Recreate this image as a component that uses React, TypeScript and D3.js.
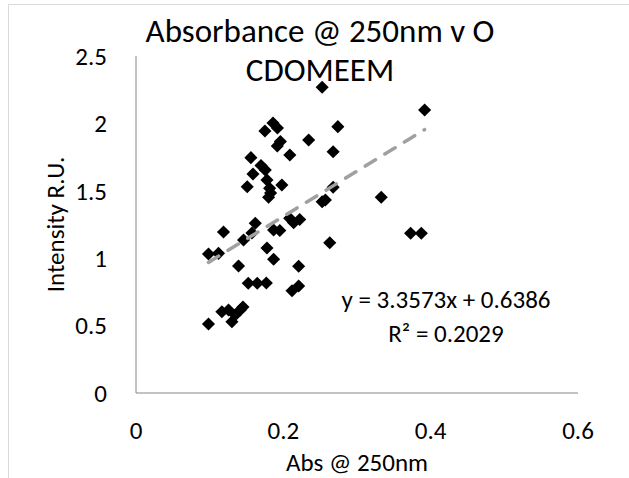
import React from "react";
import * as d3 from "d3";

// ---- data ----
const absorbance: number[] = [
  0.2527, 0.3918, 0.186, 0.192, 0.175, 0.274, 0.2344, 0.196, 0.1918, 0.2676,
  0.2088, 0.156, 0.1697, 0.1588, 0.1755, 0.1778, 0.151, 0.198, 0.1814, 0.1827,
  0.18, 0.2676, 0.2571, 0.2527, 0.3329, 0.1619, 0.1574, 0.1188, 0.146, 0.1868,
  0.1952, 0.2086, 0.214, 0.2222, 0.0984, 0.112, 0.1778, 0.1868, 0.1392, 0.2208,
  0.263, 0.3728, 0.3873, 0.1524, 0.1646, 0.1769, 0.2118, 0.2208, 0.0984, 0.1166,
  0.1256, 0.1302, 0.1347, 0.1415, 0.1452,
];
const intensity: number[] = [
  2.268, 2.099, 2.003, 1.966, 1.944, 1.976, 1.877, 1.866, 1.832, 1.79,
  1.766, 1.746, 1.688, 1.625, 1.654, 1.58, 1.53, 1.543, 1.519, 1.484,
  1.452, 1.526, 1.432, 1.419, 1.452, 1.259, 1.187, 1.194, 1.135, 1.209,
  1.205, 1.296, 1.263, 1.287, 1.031, 1.036, 1.076, 0.992, 0.942, 0.94,
  1.115, 1.185, 1.185, 0.814, 0.814, 0.816, 0.759, 0.794, 0.512, 0.603,
  0.616, 0.529, 0.579, 0.616, 0.638,
];
const xTicks: number[] = [0, 0.2, 0.4, 0.6];
const yTicks: number[] = [0, 0.5, 1, 1.5, 2, 2.5];
const slope = 3.3573;
const intercept = 0.6386;
const equationText = "y = 3.3573x + 0.6386";
const r2Text = "R² = 0.2029";
const titleLines: string[] = ["Absorbance @ 250nm v O", "CDOMEEM"];
const xTitle = "Abs @ 250nm";
const yTitle = "Intensity R.U.";

const W = 629;
const H = 478;
const FONT = "Carlito, Calibri, Lato, sans-serif";

export default function App() {
  const x = d3.scaleLinear().domain([0, 0.6]).range([136, 578]);
  const y = d3.scaleLinear().domain([0, 2.5]).range([393, 56]);
  const points = absorbance.map((a, i) => ({ a, v: intensity[i] }));
  const [xmin, xmax] = d3.extent(absorbance) as [number, number];
  const trend = d3
    .line<number>()
    .x((d) => x(d))
    .y((d) => y(slope * d + intercept))([xmin, xmax]);
  const marker = d3.symbol(d3.symbolSquare, 86)() as string;
  const axisColor = "#868686";
  const textColor = "#000";
  const fs = 25;

  return (
    <svg
      width={W}
      height={H}
      style={{ position: "absolute", left: 0, top: 0, display: "block" }}
      fontFamily={FONT}
    >
      <rect x={0} y={0} width={W} height={H} fill="#fff" />
      <rect x={8.5} y={4.5} width={W + 20} height={H + 20} fill="#fff" stroke="#d9d9d9" />

      {/* title */}
      {titleLines.map((t, i) => (
        <text key={t} x={320} y={42 + i * 39} textAnchor="middle" fontSize={33} fill={textColor}>
          {t}
        </text>
      ))}

      {/* axes */}
      <line x1={x(0)} x2={x(0)} y1={y(2.5)} y2={y(0)} stroke={axisColor} strokeWidth={1} />
      <line x1={x(0)} x2={x(0.6)} y1={y(0)} y2={y(0)} stroke={axisColor} strokeWidth={1} />

      {yTicks.map((t) => (
        <text key={"y" + t} x={107} y={y(t)} dy="0.35em" textAnchor="end" fontSize={fs} fill={textColor}>
          {d3.format("~g")(t)}
        </text>
      ))}
      {xTicks.map((t) => (
        <text key={"x" + t} x={x(t)} y={439} textAnchor="middle" fontSize={fs} fill={textColor}>
          {d3.format("~g")(t)}
        </text>
      ))}

      <text x={(x(0) + x(0.6)) / 2} y={471} textAnchor="middle" fontSize={fs} fill={textColor}>
        {xTitle}
      </text>
      <text
        transform={`translate(64, ${(y(0) + y(2.5)) / 2}) rotate(-90)`}
        textAnchor="middle"
        fontSize={fs}
        fill={textColor}
      >
        {yTitle}
      </text>

      {/* points */}
      {points.map((p, i) => (
        <path
          key={i}
          d={marker}
          transform={`translate(${x(p.a)},${y(p.v)}) rotate(45)`}
          fill="#000"
        />
      ))}

      {/* trendline */}
      <path
        d={trend || ""}
        fill="none"
        stroke="#a0a0a0"
        strokeWidth={3.5}
        strokeDasharray="12,11"
        strokeLinecap="round"
      />

      {/* equation */}
      <text x={446} y={308} textAnchor="middle" fontSize={fs} fill={textColor}>
        {equationText}
      </text>
      <text x={446} y={342} textAnchor="middle" fontSize={fs} fill={textColor}>
        {r2Text}
      </text>
    </svg>
  );
}
